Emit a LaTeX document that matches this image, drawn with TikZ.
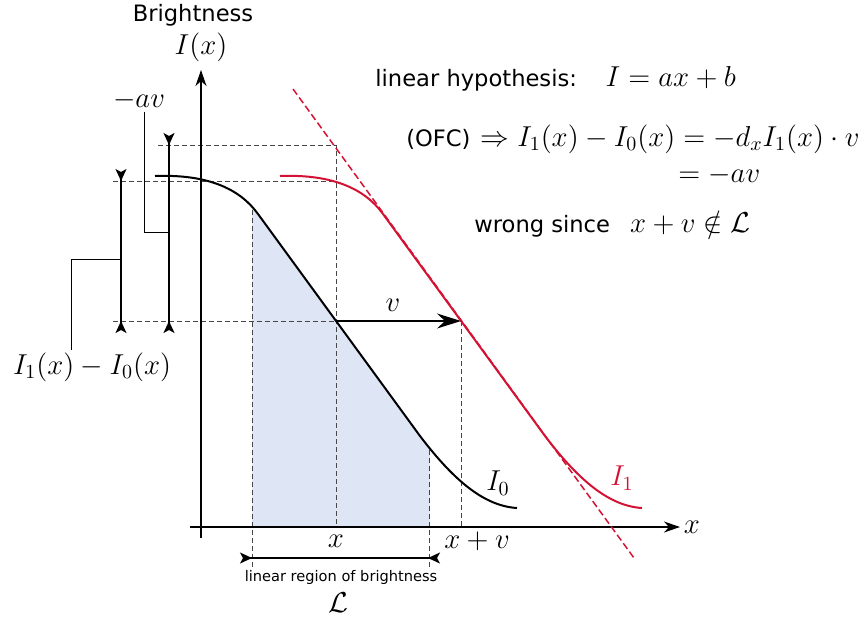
\documentclass[tikz,border=0pt]{standalone}
\usepackage{amsmath,amssymb}
\usepackage{fontspec}
\newfontfamily\labelfont{DejaVu Sans}
\usetikzlibrary{arrows.meta,positioning}
\definecolor{ofcred}{RGB}{212,18,52}
\definecolor{regionblue}{RGB}{222,230,245}
\definecolor{guidegray}{RGB}{70,70,70}
\newcommand{\sflabel}[1]{{\labelfont\fontsize{11.3}{13.5}\selectfont #1}}
\newcommand{\brightpath}{(155,176) .. controls (208,174) and (240,189) .. (258,214) -- (420,436) .. controls (455,482) and (485,506) .. (517,508)}

\begin{document}
\begin{tikzpicture}[x=0.5pt,y=-0.5pt,
  mathlbl/.style={font=\fontsize{14.4}{17}\selectfont,inner sep=1pt},
  textlbl/.style={font=\labelfont\fontsize{11.3}{13.5}\selectfont,inner sep=1pt},
  guide/.style={guidegray,line width=0.5pt,dash pattern=on 2.5pt off 1.5pt},
  axis/.style={line width=0.6pt,-{Stealth[length=8pt,width=5.5pt,inset=2.5pt]}},
  dimbar/.style={line width=0.6pt,{Stealth[reversed,length=6pt,width=5.5pt,inset=1.5pt]}-{Stealth[reversed,length=6pt,width=5.5pt,inset=1.5pt]}},
  leader/.style={line width=0.5pt},
  curve/.style={line width=1pt}]
  \useasboundingbox (0,0) rectangle (866,617);

  % linear region
  \begin{scope}
    \clip (252,0) rectangle (430,527);
    \fill[regionblue] \brightpath -- (517,527) -- (155,527) -- cycle;
  \end{scope}

  \coordinate (Ix) at (336,321);
  \coordinate (Ixv) at (461,321);
  \coordinate (topI1) at (336,181);
  \coordinate (topav) at (336,145);

  \draw[guide] (158,145) -- (topav) -- (336,527);
  \draw[guide] (113,181) -- (topI1);
  \draw[guide] (113,321) -- (Ix);
  \draw[guide] (252,210) -- (252,570);
  \draw[guide] (429,450) -- (429,570);
  \draw[guide] (Ixv) -- (461,527);

  \draw[axis] (190,527) -- (680,527);
  \draw[axis] (201,538) -- (201,70);

  \draw[curve] \brightpath;
  \begin{scope}[shift={(125,0)}]
    \draw[curve,ofcred] \brightpath;
  \end{scope}
  \draw[ofcred,line width=0.75pt,dash pattern=on 3.5pt off 1.7pt] (293,89) -- (634,558);

  \draw[line width=0.7pt,-{Stealth[length=12pt,width=7.5pt,inset=4pt]}] (Ix) -- (Ixv);

  \draw[dimbar] (121,169) -- (121,333);
  \draw[dimbar,line width=0.8pt] (169,133) -- (169,333);
  \draw[dimbar] (240,558) -- (440,558);

  \node[textlbl] (bright) at (193,15) {Brightness};
  \node[mathlbl] (Ilbl) at (201,47) {$I(x)$};
  \node[mathlbl] (xlbl) at (692,527) {$x$};
  \node[mathlbl] (xtick) at (336,541) {$x$};
  \node[mathlbl] (xvtick) at (477,541) {$x+v$};
  \node[mathlbl] (vlbl) at (393,305) {$v$};
  \node[mathlbl] (I0lbl) at (498,483) {$I_0$};
  \node[mathlbl,ofcred] (I1lbl) at (622,478) {$I_1$};
  \node[font=\labelfont\fontsize{7.3}{9}\selectfont,inner sep=1pt] (region) at (341,577) {linear region of brightness};
  \node[mathlbl] (Lset) at (338,603) {$\mathcal{L}$};

  \node[mathlbl] (avlbl) at (139,100) {$-av$};
  \node[mathlbl] (difflbl) at (92,367) {$I_1(x)-I_0(x)$};
  \coordinate (avleg) at (144,0);
  \coordinate (diffleg) at (71,0);
  \coordinate (avmid) at (169,232);
  \coordinate (diffmid) at (121,259);
  \draw[leader] (avlbl.south -| avleg) |- (avmid);
  \draw[leader] (difflbl.north -| diffleg) |- (diffmid);

  \node[mathlbl,anchor=base west] (hypo) at (373,86) {\sflabel{linear hypothesis:}\quad$I=ax+b$};
  \node[mathlbl,anchor=base east] (ofc) at (862,146)
    {\sflabel{(OFC)}\hspace{5pt}$\Rightarrow I_1(x)-I_0(x)=-d_xI_1(x)\cdot v$};
  \node[mathlbl,anchor=base west,inner sep=0pt] (ofcav) at (678,182) {$=-av$};
  \node[mathlbl,anchor=base west,inner sep=0pt] (wrong) at (474,232) {\sflabel{wrong since}\hspace{10pt}$x+v\notin\mathcal{L}$};
\end{tikzpicture}
\end{document}
